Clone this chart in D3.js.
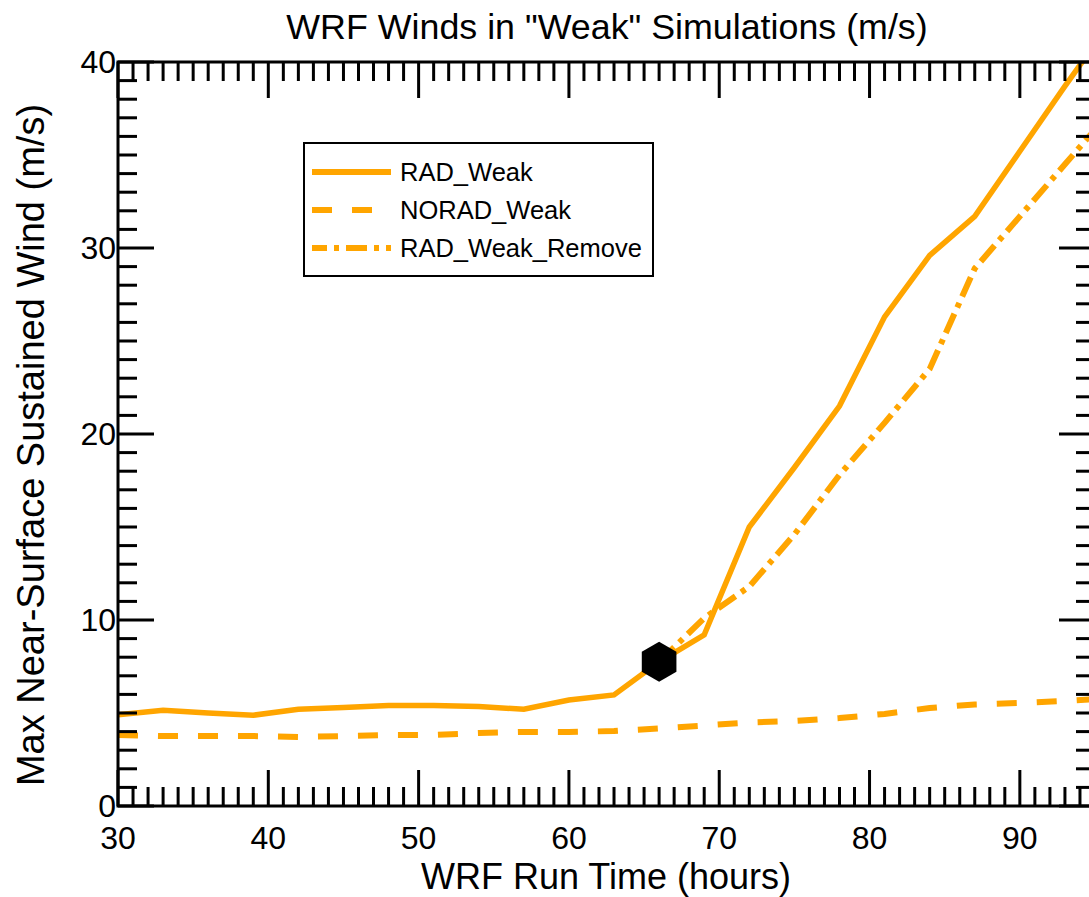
<!DOCTYPE html>
<html>
<head>
<meta charset="utf-8">
<script src="https://cdn.jsdelivr.net/npm/d3@7"></script>
<style>
  html, body { margin: 0; padding: 0; background: #fff; }
  svg { display: block; font-family: "Liberation Sans", Arial, sans-serif; }
</style>
</head>
<body>
<div id="chart"></div>
<script>
// 数据
var hours = [30, 33, 36, 39, 42, 45, 48, 51, 54, 57, 60, 63, 66, 69, 72, 75, 78, 81, 84, 87, 90, 93, 96];
var radWeak = [4.9, 5.15, 5.0, 4.88, 5.2, 5.3, 5.4, 5.4, 5.35, 5.2, 5.7, 5.97, 7.75, 9.2, 15.0, 18.2, 21.5, 26.3, 29.6, 31.7, 35.2, 38.7, 42.1];
var noradWeak = [3.82, 3.76, 3.76, 3.76, 3.71, 3.76, 3.82, 3.82, 3.92, 3.98, 3.98, 4.03, 4.17, 4.33, 4.49, 4.57, 4.73, 4.95, 5.27, 5.46, 5.54, 5.65, 5.8];
var removeHours = [66, 69, 72, 75, 78, 81, 84, 87, 90, 93, 96];
var radWeakRemove = [7.75, 10.1, 11.8, 14.6, 17.8, 20.6, 23.5, 28.9, 31.7, 34.5, 37.3];
var markerPoint = [66, 7.75];
var xTicks = [30, 40, 50, 60, 70, 80, 90];
var yTicks = [0, 10, 20, 30, 40];
var seriesNames = ["RAD_Weak", "NORAD_Weak", "RAD_Weak_Remove"];

var CH = {
    width: 1089, height: 897,
    left: 118, right: 1095, top: 62, bottom: 806,
    orange: "#FFA500"
};

var svg = d3.select("#chart").append("svg")
    .attr("width", CH.width)
    .attr("height", CH.height);

var x = d3.scaleLinear().domain([30, 95]).range([CH.left, CH.right]);
var y = d3.scaleLinear().domain([0, 40]).range([CH.bottom, CH.top]);

// clip for the plot area
svg.append("clipPath").attr("id", "plotClip")
    .append("rect")
    .attr("x", CH.left).attr("y", CH.top)
    .attr("width", CH.right - CH.left).attr("height", CH.bottom - CH.top);

var plot = svg.append("g").attr("clip-path", "url(#plotClip)");

var line = d3.line()
    .x(function (d) { return x(d[0]); })
    .y(function (d) { return y(d[1]); });

function zip(xs, ys) {
    return xs.map(function (v, i) { return [v, ys[i]]; });
}

plot.append("path")
    .datum(zip(hours, noradWeak))
    .attr("d", line)
    .attr("fill", "none")
    .attr("stroke", CH.orange)
    .attr("stroke-width", 6)
    .attr("stroke-dasharray", "20,20");

plot.append("path")
    .datum(zip(removeHours, radWeakRemove))
    .attr("d", line)
    .attr("fill", "none")
    .attr("stroke", CH.orange)
    .attr("stroke-width", 6)
    .attr("stroke-dasharray", "21,7,5,7");

plot.append("path")
    .datum(zip(hours, radWeak))
    .attr("d", line)
    .attr("fill", "none")
    .attr("stroke", CH.orange)
    .attr("stroke-width", 5.5)
    .attr("stroke-linejoin", "miter");

// hexagon marker
var hex = d3.range(6).map(function (i) {
    var a = Math.PI / 3 * i - Math.PI / 2;
    return [x(markerPoint[0]) + 20 * Math.cos(a), y(markerPoint[1]) + 20 * Math.sin(a)];
});
svg.append("polygon")
    .attr("points", hex.map(function (p) { return p.join(","); }).join(" "))
    .attr("fill", "#000");

// axes: ticks on all four sides, pointing inward
var xMinor = d3.range(30, 96, 1);
var yMinor = d3.range(0, 41, 1);
var axes = svg.append("g").attr("stroke", "#000").attr("stroke-width", 3);

function tickLen(v) { return v % 10 === 0 ? 36 : 19; }

axes.selectAll("line.xb").data(xMinor).enter().append("line")
    .attr("x1", function (d) { return x(d); }).attr("x2", function (d) { return x(d); })
    .attr("y1", CH.bottom).attr("y2", function (d) { return CH.bottom - tickLen(d); });
axes.selectAll("line.xt").data(xMinor).enter().append("line")
    .attr("x1", function (d) { return x(d); }).attr("x2", function (d) { return x(d); })
    .attr("y1", CH.top).attr("y2", function (d) { return CH.top + tickLen(d); });
axes.selectAll("line.yl").data(yMinor).enter().append("line")
    .attr("y1", function (d) { return y(d); }).attr("y2", function (d) { return y(d); })
    .attr("x1", CH.left).attr("x2", function (d) { return CH.left + tickLen(d); });
axes.selectAll("line.yr").data(yMinor).enter().append("line")
    .attr("y1", function (d) { return y(d); }).attr("y2", function (d) { return y(d); })
    .attr("x1", CH.right).attr("x2", function (d) { return CH.right - tickLen(d); });

axes.append("rect")
    .attr("x", CH.left).attr("y", CH.top)
    .attr("width", CH.right - CH.left).attr("height", CH.bottom - CH.top)
    .attr("fill", "none");

// tick labels
svg.selectAll("text.xl").data(xTicks).enter().append("text")
    .attr("x", function (d) { return x(d); })
    .attr("y", CH.bottom + 43)
    .attr("text-anchor", "middle")
    .attr("font-size", 32)
    .text(function (d) { return d; });

svg.selectAll("text.yl").data(yTicks).enter().append("text")
    .attr("x", CH.left - 2)
    .attr("y", function (d) { return y(d) + 11; })
    .attr("text-anchor", "end")
    .attr("font-size", 32)
    .text(function (d) { return d; });

// titles
svg.append("text")
    .attr("x", 607).attr("y", 39)
    .attr("text-anchor", "middle")
    .attr("font-size", 35.8)
    .text('WRF Winds in "Weak" Simulations (m/s)');

svg.append("text")
    .attr("x", 606).attr("y", 889)
    .attr("text-anchor", "middle")
    .attr("font-size", 36)
    .text("WRF Run Time (hours)");

svg.append("text")
    .attr("transform", "translate(44,445) rotate(-90)")
    .attr("text-anchor", "middle")
    .attr("font-size", 38)
    .text("Max Near-Surface Sustained Wind (m/s)");

// legend
var legend = svg.append("g");
legend.append("rect")
    .attr("x", 304).attr("y", 143)
    .attr("width", 349).attr("height", 133)
    .attr("fill", "#fff")
    .attr("stroke", "#000")
    .attr("stroke-width", 2);

var legendDash = [null, "20,20", "21,7,5,7"];
var legendRows = legend.selectAll("g.row").data(seriesNames).enter().append("g")
    .attr("transform", function (d, i) { return "translate(0," + (172 + i * 38) + ")"; });
legendRows.append("line")
    .attr("x1", 312).attr("x2", 391)
    .attr("stroke", CH.orange)
    .attr("stroke-width", 6)
    .attr("stroke-dasharray", function (d, i) { return legendDash[i]; })
    .attr("stroke-dashoffset", function (d, i) { return i === 2 ? 6 : 0; });
legendRows.append("text")
    .attr("x", 400).attr("y", 9)
    .attr("font-size", 25.5)
    .text(function (d) { return d; });
</script>
</body>
</html>
